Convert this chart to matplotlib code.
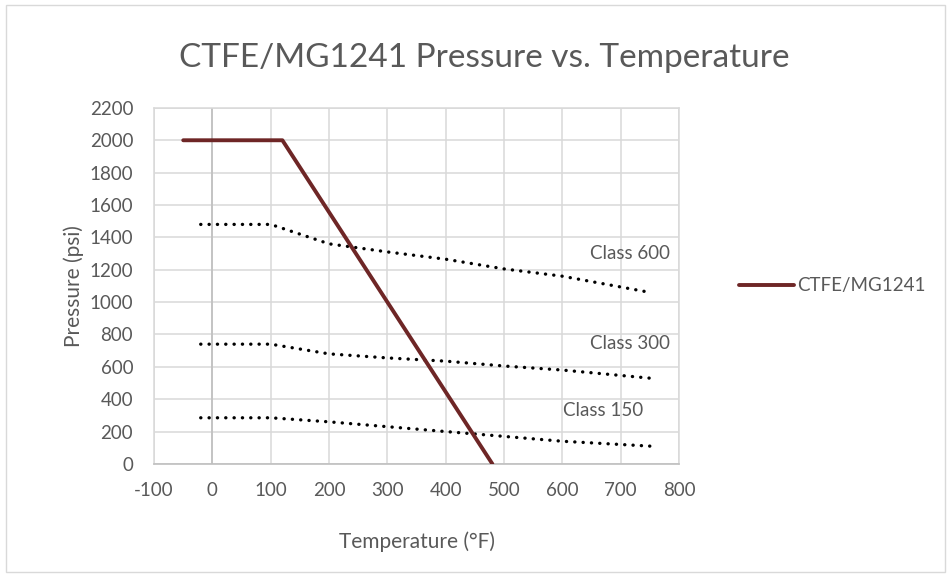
import matplotlib
matplotlib.use("Agg")
import matplotlib.pyplot as plt
from matplotlib.patches import Rectangle

plt.rcParams["font.family"] = ["Lato", "DejaVu Sans"]
plt.rcParams["axes.unicode_minus"] = False

TEXT = "#595959"
GRID = "#D9D9D9"
AXIS = "#BFBFBF"
LINE = "#6E2626"

# CTFE/MG1241 seat rating
ctfe_temp = [-50, 100, 120, 480]
ctfe_psi = [2000, 2000, 2000, 0]

# flange class ratings
class_temp = [-20, 100, 200, 300, 400, 500, 600, 750]
class_600 = [1480, 1480, 1360, 1310, 1265, 1205, 1160, 1060]
class_300 = [740, 740, 680, 655, 635, 605, 580, 530]
class_150 = [285, 285, 260, 230, 200, 170, 140, 110]

class_labels = ["Class 600", "Class 300", "Class 150"]
label_pos = [(785, 1300), (785, 747), (738, 333)]

x_ticks = list(range(-100, 801, 100))
y_ticks = list(range(0, 2201, 200))


fig = plt.figure(figsize=(9.51, 5.77), dpi=100)
fig.patch.set_facecolor("white")

fig.patches.append(
    Rectangle((0.006, 0.008), 0.988, 0.984, transform=fig.transFigure,
              fill=False, edgecolor=GRID, linewidth=1)
)

ax = fig.add_axes([0.162, 0.196, 0.552, 0.617])

for vals in [class_600, class_300, class_150]:
    ax.plot(class_temp, vals, color="black", linewidth=2.4,
            linestyle=(0, (0.05, 2.45)), dash_capstyle="round", zorder=3)

ax.plot(ctfe_temp, ctfe_psi, color=LINE, linewidth=2.8,
        solid_joinstyle="round", solid_capstyle="round",
        label="CTFE/MG1241", zorder=4)

for text, (x, y) in zip(class_labels, label_pos):
    ax.text(x, y, text, ha="right", va="center", fontsize=13.5, color=TEXT)

ax.set_xlim(-100, 800)
ax.set_ylim(0, 2200)
ax.set_xticks(x_ticks)
ax.set_yticks(y_ticks)

ax.grid(True, color=GRID, linewidth=1.1)
ax.set_axisbelow(True)
ax.axvline(0, color=AXIS, linewidth=1.2, zorder=1.5)

for side in ["top", "right", "left"]:
    ax.spines[side].set_color(GRID)
    ax.spines[side].set_linewidth(1.1)
ax.spines["bottom"].set_color(AXIS)
ax.spines["bottom"].set_linewidth(1.2)

ax.tick_params(axis="both", length=0, labelsize=13.5, labelcolor=TEXT)
ax.tick_params(axis="y", pad=15)
ax.tick_params(axis="x", pad=13)

ax.set_xlabel("Temperature (°F)", fontsize=15, color=TEXT, labelpad=23)
ax.set_ylabel("Pressure (psi)", fontsize=15, color=TEXT, labelpad=4)

fig.text(0.509, 0.899, "CTFE/MG1241 Pressure vs. Temperature",
         ha="center", va="center", fontsize=24, color=TEXT)

ax.legend(loc="center left", bbox_to_anchor=(1.083, 0.5), frameon=False,
          fontsize=13.5, labelcolor=TEXT, handlelength=2.9, handletextpad=0.2)

fig.savefig("out.png", dpi=100, facecolor=fig.get_facecolor())
